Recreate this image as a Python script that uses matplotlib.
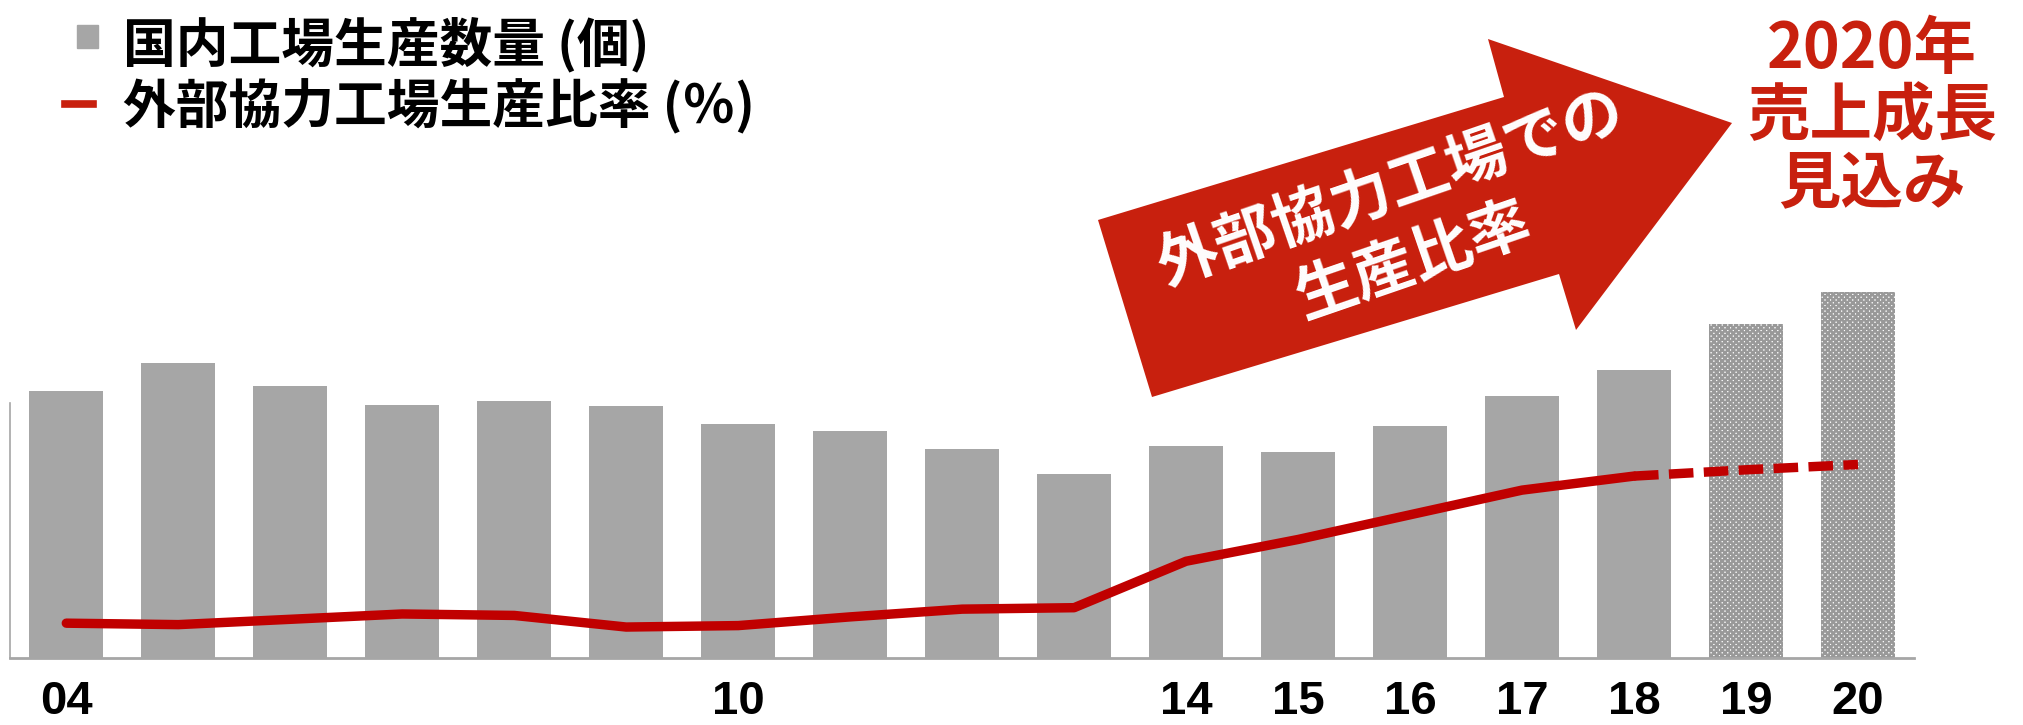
import numpy as np
import matplotlib.pyplot as plt
from matplotlib.patches import Polygon, Rectangle
from matplotlib.lines import Line2D

plt.rcParams['font.family'] = ['Noto Sans CJK JP', 'DejaVu Sans']
plt.rcParams['hatch.linewidth'] = 1.8

# データ
years = ['04', '05', '06', '07', '08', '09', '10', '11', '12', '13',
         '14', '15', '16', '17', '18', '19', '20']
tick_labels = ['04', '', '', '', '', '', '10', '', '', '',
               '14', '15', '16', '17', '18', '19', '20']
# 国内工場生産数量（相対値）
production = [207, 229, 211, 196, 199, 195, 181, 176, 162, 143,
              164, 160, 180, 203, 223, 259, 284]
# 外部協力工場生産比率 (%)
outsource_ratio = [7.2, 6.9, 8.0, 9.1, 8.8, 6.4, 6.7, 8.5, 10.1, 10.4,
                   20.0, 24.5, 29.6, 34.7, 37.6, 38.9, 40.0]
n_actual = 15   # 04〜18 が実績、19・20 は見込み

bar_color = '#A6A6A6'
red = '#C00000'
arrow_red = '#C8200E'

W, H = 2023, 725
fig = plt.figure(figsize=(W / 100, H / 100), dpi=100)
ax = fig.add_axes([0.0051, 0.0924, 0.941, 0.9076])
x = np.arange(len(years))

# 棒グラフ
ax.bar(x[:n_actual], production[:n_actual], width=0.66, color=bar_color)
ax.bar(x[n_actual:], production[n_actual:], width=0.66, facecolor='white',
       edgecolor='#999999', hatch='xxxxxx', linewidth=0)

ax.set_xlim(-0.5, len(years) - 0.5)
ax.set_ylim(0, 510)
ax.set_yticks([])
ax.set_xticks(x)
ax.set_xticklabels(tick_labels, fontsize=34, fontweight='bold',
                   family=['Liberation Sans', 'DejaVu Sans'])
ax.tick_params(axis='x', length=0, pad=16)
for s in ['top', 'right']:
    ax.spines[s].set_visible(False)
ax.spines['bottom'].set_color('#A6A6A6')
ax.spines['bottom'].set_linewidth(2)
ax.spines['left'].set_color('#A6A6A6')
ax.spines['left'].set_linewidth(1.2)
ax.spines['left'].set_bounds(0, 198)

# 折れ線（比率）
ax2 = ax.twinx()
ax2.set_ylim(0, 136)
ax2.set_yticks([])
for s in ax2.spines.values():
    s.set_visible(False)
ax2.plot(x[:n_actual], outsource_ratio[:n_actual], color=red, lw=6.8,
         solid_capstyle='round', solid_joinstyle='round')
ax2.plot(x[n_actual - 1:], outsource_ratio[n_actual - 1:], color=red, lw=6.8,
         dashes=(2.6, 1.1))

# 凡例（手動配置）
def fx(px):
    return px / W


def fy(py):
    return 1 - py / H


fig.patches.append(Rectangle((fx(77), fy(48)), 21 / W, 23 / H,
                             transform=fig.transFigure, color=bar_color))
fig.lines.append(Line2D([fx(65), fx(93)], [fy(104), fy(104)],
                        transform=fig.transFigure, color='#C8200E', lw=5.5))
fig.text(fx(123), fy(45), '国内工場生産数量 (個)', fontsize=38,
         fontweight='bold', va='center', ha='left')
fig.text(fx(123), fy(107), '外部協力工場生産比率 (％)', fontsize=38,
         fontweight='bold', va='center', ha='left')

# 矢印
arrow_px = [(1152, 397), (1098, 220), (1504, 97), (1488, 39),
            (1732, 123), (1576, 330), (1559, 274)]
fig.patches.append(Polygon([(fx(a), fy(b)) for a, b in arrow_px],
                           closed=True, transform=fig.transFigure,
                           facecolor=arrow_red, edgecolor='none'))
fig.text(fx(1391), fy(190), '外部協力工場での', fontsize=44, fontweight='bold',
         color='white', rotation=19, rotation_mode='anchor',
         ha='center', va='center')
fig.text(fx(1413), fy(262), '生産比率', fontsize=44, fontweight='bold',
         color='white', rotation=19, rotation_mode='anchor',
         ha='center', va='center')

# 右上の注記
fig.text(fx(1872), fy(117), '2020年\n売上成長\n見込み', fontsize=45,
         fontweight='bold', color=arrow_red, ha='center', va='center',
         linespacing=1.1)

fig.savefig('out.png', dpi=100)
